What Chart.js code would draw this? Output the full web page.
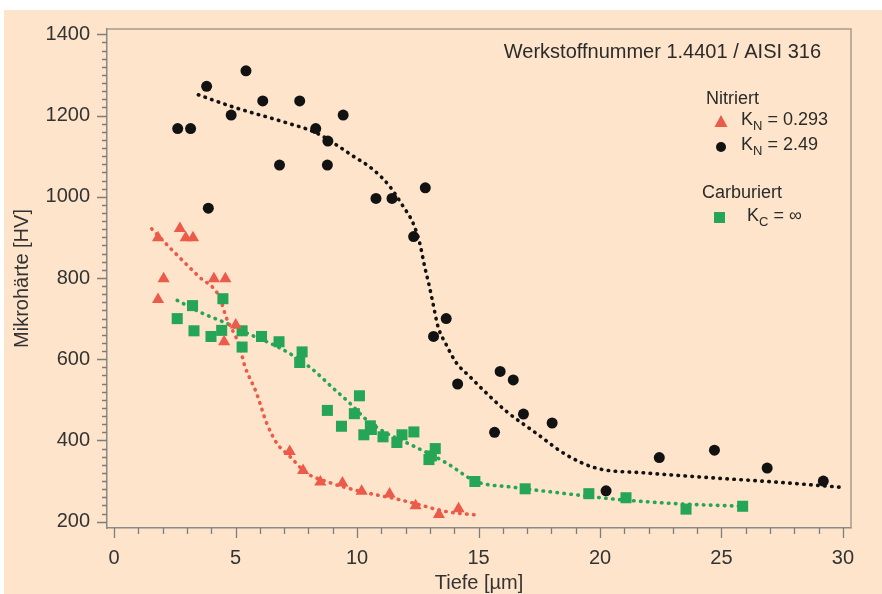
<!DOCTYPE html>
<html>
<head>
<meta charset="utf-8">
<style>
    html, body { margin: 0; padding: 0; background: #ffffff; }
    #box { position: absolute; left: 0; top: 0; width: 882px; height: 594px; }
</style>
</head>
<body>
<div id="box">
    <canvas id="haerte"></canvas>
</div>

<script src="https://cdn.jsdelivr.net/npm/chart.js"></script>

<script>
    // Messpunkte
    var kn0293_x = [1.81, 2.71, 2.95, 3.25, 2.04, 1.81, 4.11, 4.58, 4.53, 5.01, 7.23, 7.78, 8.49, 9.40, 10.19, 11.34, 12.41, 13.37, 14.18];
    var kn0293_y = [899, 922, 899, 899, 798, 747, 798, 798, 643, 684, 373, 326, 298, 295, 275, 268, 239, 218, 232];

    var kn249_x = [2.62, 3.15, 3.81, 3.88, 4.82, 5.43, 6.12, 6.81, 7.64, 8.30, 8.80, 8.78, 9.43, 10.78, 11.44, 12.81, 12.33, 13.67, 13.15, 14.14, 15.89, 16.43, 15.66, 16.85, 18.03, 20.25, 22.44, 24.71, 26.88, 29.19];
    var kn249_y = [1168, 1168, 1272, 972, 1201, 1310, 1236, 1078, 1236, 1168, 1137, 1078, 1201, 996, 996, 1022, 902, 700, 656, 539, 570, 549, 420, 465, 443, 276, 358, 376, 332, 300];

    var kc_x = [2.60, 3.23, 3.29, 3.99, 4.48, 4.43, 5.27, 5.27, 6.07, 6.79, 7.74, 7.64, 8.78, 10.10, 9.36, 9.89, 10.55, 10.59, 10.28, 11.07, 11.64, 11.85, 12.34, 12.96, 13.22, 13.06, 14.85, 16.92, 19.54, 21.07, 23.54, 25.87];
    var kc_y = [700, 732, 670, 656, 749, 671, 670, 630, 656, 643, 618, 592, 474, 510, 435, 466, 436, 427, 414, 409, 395, 414, 421, 353, 380, 362, 299, 281, 269, 259, 231, 238];

    var fit0293_x = [1.55, 2.47, 3.50, 4.29, 4.43, 4.63, 4.97, 5.18, 5.34, 5.86, 6.28, 6.69, 7.23, 7.92, 8.74, 10.11, 11.62, 12.30, 13.67, 15.01];
    var fit0293_y = [921, 864, 803, 759, 738, 701, 660, 631, 591, 517, 443, 394, 361, 320, 299, 275, 256, 246, 225, 216];

    var fit249_x = [3.47, 4.90, 7.10, 8.33, 9.84, 10.66, 11.34, 11.89, 12.30, 12.58, 12.78, 12.99, 13.12, 13.33, 13.67, 14.09, 14.63, 15.18, 16.14, 17.37, 18.60, 19.84, 21.90, 24.63, 27.37, 29.88];
    var fit249_y = [1251, 1221, 1182, 1157, 1100, 1067, 1026, 977, 936, 886, 829, 776, 739, 681, 636, 591, 558, 525, 472, 418, 365, 332, 320, 308, 297, 285];

    var fitkc_x = [2.60, 3.53, 4.77, 5.59, 6.55, 7.37, 8.19, 9.01, 9.70, 10.39, 11.21, 12.30, 13.67, 14.90, 16.41, 18.33, 20.52, 23.26, 25.93];
    var fitkc_y = [745, 716, 685, 661, 636, 609, 574, 529, 492, 451, 418, 387, 345, 299, 285, 271, 256, 244, 238];

    var x_ticks = [0, 5, 10, 15, 20, 25, 30];
    var y_ticks = [200, 400, 600, 800, 1000, 1200, 1400];

    var red = '#ec5a4a';
    var green = '#25a556';
    var black = '#121212';
    var peach = '#fde4ca';
    var fontName = '"Liberation Sans", Arial, sans-serif';

    function pts(xs, ys) {
        return xs.map((x, i) => ({x: x, y: ys[i]}));
    }

    function fitLine(xs, ys, color) {
        return {
            type: 'line',
            data: pts(xs, ys),
            borderColor: color,
            borderWidth: 3.6,
            borderDash: [0.5, 6.5],
            borderCapStyle: 'round',
            pointRadius: 0,
            fill: false,
            cubicInterpolationMode: 'monotone',
            order: 2
        };
    }

    // Hintergrund, Rahmen, Teilstriche, Überschrift und Legende
    var decor = {
        id: 'decor',
        beforeDraw(chart) {
            const ctx = chart.ctx;
            ctx.save();
            ctx.fillStyle = peach;
            ctx.fillRect(4, 10, chart.width - 4, chart.height - 10);
            ctx.restore();
        },
        afterDraw(chart) {
            const ctx = chart.ctx;
            const a = chart.chartArea;
            const xs = chart.scales.x;
            const ys = chart.scales.y;
            ctx.save();

            // Rahmen oben/rechts
            ctx.strokeStyle = '#a79a8e';
            ctx.lineWidth = 1.5;
            ctx.beginPath();
            ctx.moveTo(a.left, a.top);
            ctx.lineTo(a.right, a.top);
            ctx.lineTo(a.right, a.bottom);
            ctx.stroke();

            // Teilstriche
            ctx.strokeStyle = '#7d7d7d';
            ctx.lineWidth = 1.3;
            ctx.beginPath();
            xs.ticks.forEach(t => {
                const px = Math.round(xs.getPixelForValue(t.value)) + 0.5;
                const len = x_ticks.includes(t.value) ? 10 : 6;
                ctx.moveTo(px, a.bottom);
                ctx.lineTo(px, a.bottom + len);
            });
            ys.ticks.forEach(t => {
                const py = Math.round(ys.getPixelForValue(t.value)) + 0.5;
                const len = y_ticks.includes(t.value) ? 10 : 5;
                ctx.moveTo(a.left, py);
                ctx.lineTo(a.left - len, py);
            });
            ctx.stroke();

            // Überschrift
            ctx.fillStyle = '#2b2b2b';
            ctx.font = '20px ' + fontName;
            ctx.textAlign = 'right';
            ctx.textBaseline = 'middle';
            ctx.fillText('Werkstoffnummer 1.4401 / AISI 316', 821, 52);

            // Legende
            ctx.textAlign = 'left';
            ctx.font = '18px ' + fontName;
            ctx.fillText('Nitriert', 706, 99);
            ctx.fillText('Carburiert', 702, 193);

            function kLabel(x, y, sub, rest) {
                ctx.font = '18px ' + fontName;
                ctx.fillText('K', x, y);
                let w = ctx.measureText('K').width;
                ctx.font = '13px ' + fontName;
                ctx.fillText(sub, x + w, y + 6);
                w += ctx.measureText(sub).width;
                ctx.font = '18px ' + fontName;
                ctx.fillText(rest, x + w, y);
            }

            ctx.fillStyle = red;
            ctx.beginPath();
            ctx.moveTo(721, 115);
            ctx.lineTo(727.5, 127);
            ctx.lineTo(714.5, 127);
            ctx.closePath();
            ctx.fill();

            ctx.fillStyle = black;
            ctx.beginPath();
            ctx.arc(721, 147, 5, 0, Math.PI * 2);
            ctx.fill();

            ctx.fillStyle = green;
            ctx.fillRect(714, 212, 11, 11);

            ctx.fillStyle = '#2b2b2b';
            kLabel(741, 120, 'N', ' = 0.293');
            kLabel(741, 145, 'N', ' = 2.49');
            kLabel(747, 216, 'C', ' = \u221E');

            ctx.restore();
        }
    };

    var chart = new Chart(document.getElementById('haerte'), {
        data: {
            datasets: [
                fitLine(fit0293_x, fit0293_y, red),
                fitLine(fit249_x, fit249_y, black),
                fitLine(fitkc_x, fitkc_y, green),
                {
                    type: 'scatter',
                    label: 'KN = 0.293',
                    data: pts(kn0293_x, kn0293_y),
                    pointStyle: 'triangle',
                    pointRadius: 7,
                    backgroundColor: red,
                    borderWidth: 0,
                    order: 1
                },
                {
                    type: 'scatter',
                    label: 'KN = 2.49',
                    data: pts(kn249_x, kn249_y),
                    pointStyle: 'circle',
                    pointRadius: 5.5,
                    backgroundColor: black,
                    borderWidth: 0,
                    order: 1
                },
                {
                    type: 'scatter',
                    label: 'KC = inf',
                    data: pts(kc_x, kc_y),
                    pointStyle: 'rect',
                    pointRadius: 7.8,
                    backgroundColor: green,
                    borderWidth: 0,
                    order: 1
                }
            ]
        },
        options: {
            responsive: true,
            maintainAspectRatio: false,
            animation: false,
            layout: {
                padding: {left: 0, top: 28, right: 31, bottom: 0}
            },
            plugins: {
                legend: {display: false},
                tooltip: {enabled: false}
            },
            scales: {
                x: {
                    type: 'linear',
                    min: -0.29,
                    max: 30.33,
                    grid: {display: false, drawTicks: false},
                    border: {display: true, color: '#8a8a8a', width: 1.5},
                    ticks: {
                        stepSize: 1,
                        autoSkip: false,
                        includeBounds: false,
                        maxRotation: 0,
                        padding: 18,
                        color: '#333333',
                        font: {family: fontName, size: 20},
                        callback: v => x_ticks.includes(v) ? String(v) : ''
                    },
                    title: {
                        display: true,
                        text: 'Tiefe [µm]',
                        color: '#333333',
                        font: {family: fontName, size: 20, lineHeight: 1},
                        padding: {top: 0, bottom: 1}
                    },
                    afterFit: s => { s.height = 66; }
                },
                y: {
                    type: 'linear',
                    min: 184.5,
                    max: 1413,
                    grid: {display: false, drawTicks: false},
                    border: {display: true, color: '#8a8a8a', width: 1.5},
                    ticks: {
                        stepSize: 20,
                        autoSkip: false,
                        includeBounds: false,
                        padding: 17,
                        color: '#333333',
                        font: {family: fontName, size: 20},
                        callback: v => y_ticks.includes(v) ? String(v) : ''
                    },
                    title: {
                        display: true,
                        text: 'Mikrohärte [HV]',
                        color: '#333333',
                        font: {family: fontName, size: 20, lineHeight: 1},
                        padding: {top: 12, bottom: 0}
                    },
                    afterFit: s => { s.width = 107; }
                }
            }
        },
        plugins: [decor]
    });
</script>
</body>
</html>
